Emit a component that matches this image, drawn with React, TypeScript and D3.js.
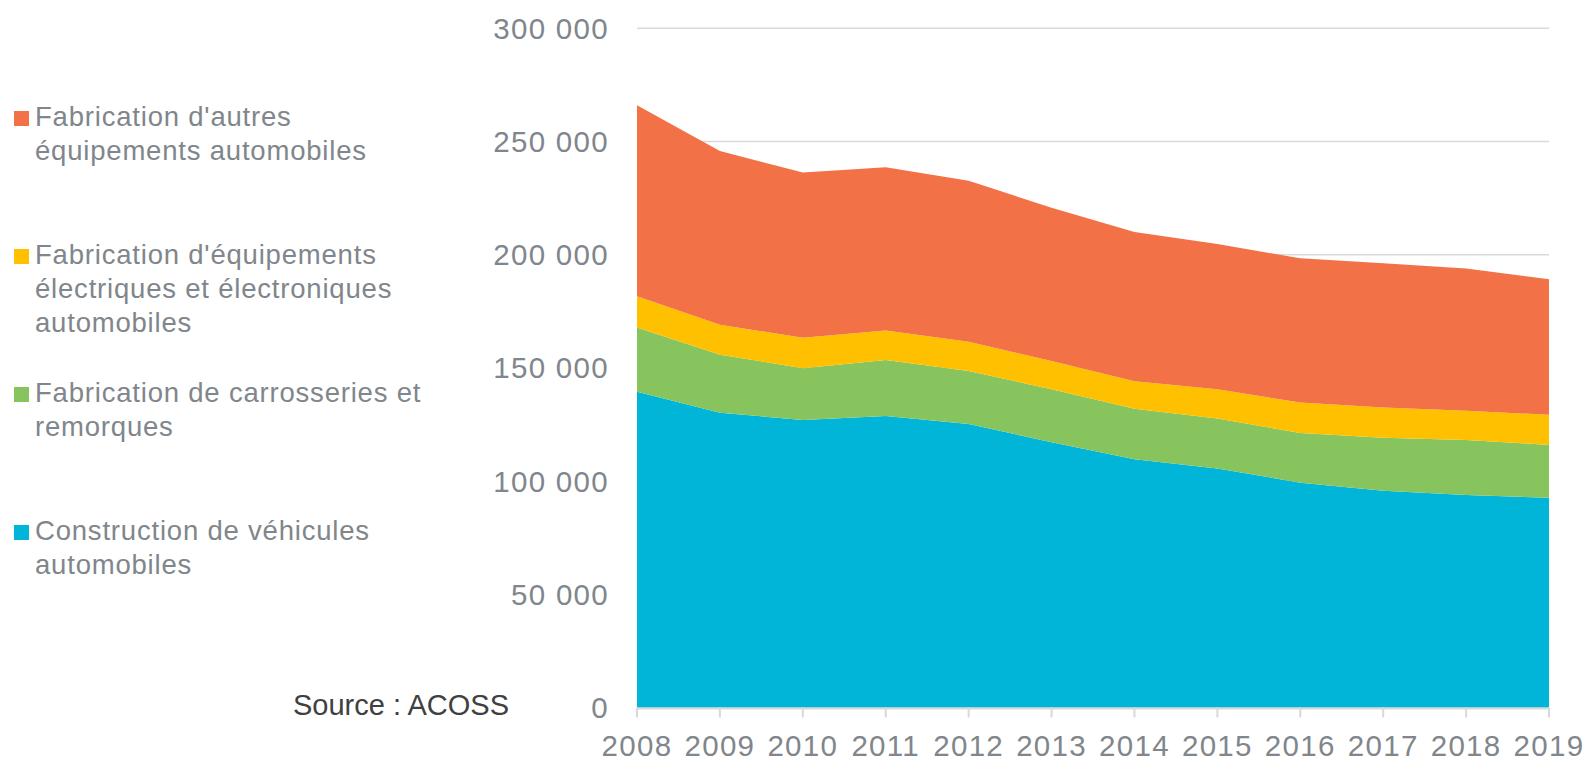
import React from 'react';
import * as d3 from 'd3';

// Emplois salariés par secteur automobile, 2008-2019
const years = [2008, 2009, 2010, 2011, 2012, 2013, 2014, 2015, 2016, 2017, 2018, 2019];

const vehicules = [139500, 130200, 127000, 128800, 125200, 117200, 109600, 105600, 99300, 95700, 93900, 92600];
const carrosseries = [28300, 25600, 22900, 24700, 23400, 23400, 22400, 22000, 22000, 23400, 24300, 23400];
const electriques = [13900, 13300, 13400, 13000, 12900, 12500, 12100, 13000, 13400, 13400, 12900, 13300];
const autres = [84300, 76700, 73000, 72100, 71200, 67600, 65900, 64100, 63700, 63700, 62800, 59900];

const yTicks = [0, 50000, 100000, 150000, 200000, 250000, 300000];

const seriesKeys = ['vehicules', 'carrosseries', 'electriques', 'autres'];
const colors = {
  vehicules: '#00B5D8',
  carrosseries: '#88C45E',
  electriques: '#FFC000',
  autres: '#F27146',
};

const legendItems = [
  { key: 'autres', lines: ["Fabrication d'autres", 'équipements automobiles'], y: 111 },
  { key: 'electriques', lines: ["Fabrication d'équipements", 'électriques et électroniques', 'automobiles'], y: 249 },
  { key: 'carrosseries', lines: ['Fabrication de carrosseries et', 'remorques'], y: 387 },
  { key: 'vehicules', lines: ['Construction de véhicules', 'automobiles'], y: 525 },
];

const W = 1587;
const H = 761;
const FONT = '"Liberation Sans", Arial, sans-serif';
const GREY = '#80868B';

export default function App() {
  const table = years.map((year, i) => ({
    year,
    vehicules: vehicules[i],
    carrosseries: carrosseries[i],
    electriques: electriques[i],
    autres: autres[i],
  }));

  const stacked = d3.stack().keys(seriesKeys)(table as any);

  const x = d3.scaleLinear().domain([2008, 2019]).range([637, 1549]);
  const y = d3.scaleLinear().domain([0, 300000]).range([707.5, 28.3]);

  const area = d3
    .area<any>()
    .x((d) => x(d.data.year))
    .y0((d) => y(d[0]))
    .y1((d) => y(d[1]));

  const fmt = (v: number) => d3.format(',')(v).replace(/,/g, ' ');

  return (
    <svg width={W} height={H} style={{ position: 'absolute', left: 0, top: 0 }} fontFamily={FONT}>
      <rect width={W} height={H} fill="#fff" />

      {/* grille */}
      {yTicks.map((t) => (
        <line key={t} x1={x(2008)} x2={x(2019)} y1={y(t)} y2={y(t)} stroke="#D9D9D9" strokeWidth={1.5} />
      ))}

      {/* aires empilées */}
      {stacked.map((s) => (
        <path key={s.key} d={area(s) || ''} fill={(colors as any)[s.key]} />
      ))}

      {/* axe x */}
      <line x1={x(2008)} x2={x(2019)} y1={y(0) + 1} y2={y(0) + 1} stroke="#D9D9D9" strokeWidth={2} />
      {years.map((yr) => (
        <g key={yr}>
          <line x1={x(yr)} x2={x(yr)} y1={y(0)} y2={y(0) + 10} stroke="#D9D9D9" strokeWidth={2} />
          <text x={x(yr)} y={756} textAnchor="middle" fontSize={29.5} fill={GREY} letterSpacing={1.3}>
            {yr}
          </text>
        </g>
      ))}

      {/* axe y */}
      {yTicks.map((t) => (
        <text key={t} x={609} y={y(t) + 10.5} textAnchor="end" fontSize={29.5} fill={GREY} letterSpacing={1.3}>
          {fmt(t)}
        </text>
      ))}

      {/* légende */}
      {legendItems.map((item) => (
        <g key={item.key}>
          <rect x={14} y={item.y} width={15} height={15} fill={(colors as any)[item.key]} />
          {item.lines.map((ln, j) => (
            <text key={j} x={35} y={item.y + 15 + j * 34} fontSize={27.5} fill={GREY} letterSpacing={0.8}>
              {ln}
            </text>
          ))}
        </g>
      ))}

      <text x={293} y={715} fontSize={29} fill="#404040">
        Source : ACOSS
      </text>
    </svg>
  );
}
